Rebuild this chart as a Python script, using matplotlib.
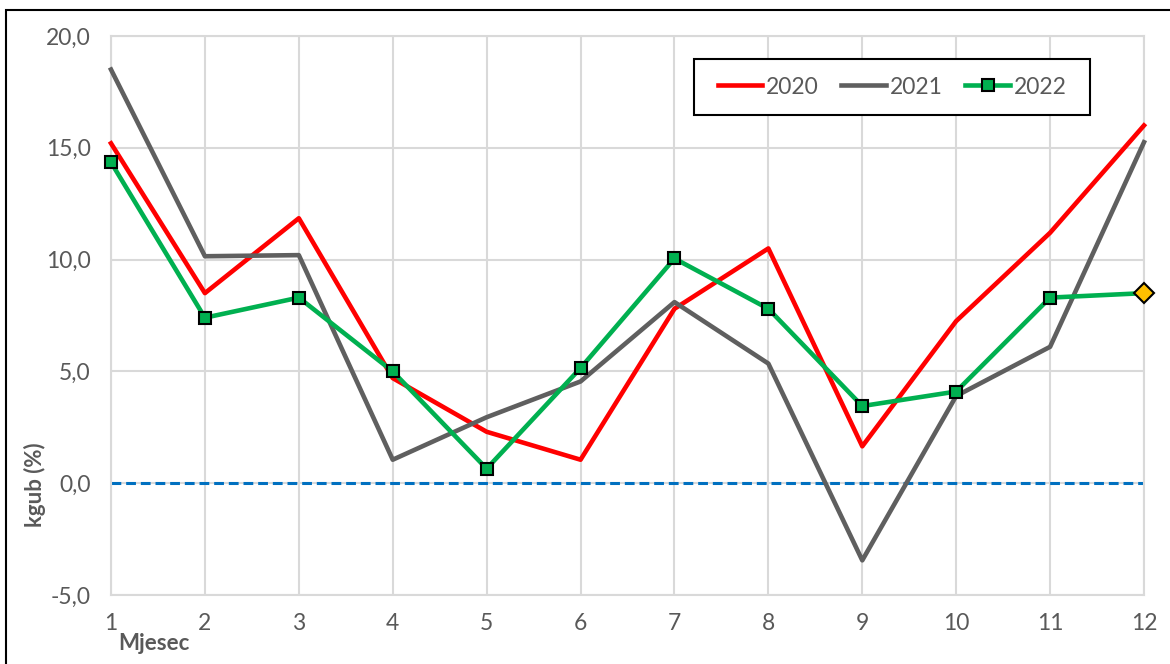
import matplotlib
matplotlib.use("Agg")
import matplotlib.pyplot as plt
from matplotlib.patches import Rectangle
from matplotlib.lines import Line2D

months = [1, 2, 3, 4, 5, 6, 7, 8, 9, 10, 11, 12]
kgub_2020 = [15.2, 8.5, 11.85, 4.7, 2.3, 1.05, 7.8, 10.5, 1.65, 7.25, 11.2, 16.0]
kgub_2021 = [18.5, 10.15, 10.2, 1.05, 2.95, 4.55, 8.1, 5.35, -3.45, 3.9, 6.1, 15.25]
kgub_2022 = [14.35, 7.4, 8.3, 5.0, 0.65, 5.15, 10.05, 7.8, 3.45, 4.1, 8.3, 8.5]
y_ticks = [-5.0, 0.0, 5.0, 10.0, 15.0, 20.0]

TXT = "#595959"
plt.rcParams["font.family"] = ["Lato", "DejaVu Sans"]

fig = plt.figure(figsize=(11.70, 6.64), dpi=100)
W, H = 1170, 664
ax = fig.add_axes([111 / W, 1 - 595 / H, (1144 - 111) / W, (595 - 36) / H])

ax.set_xlim(1, 12)
ax.set_ylim(-5, 20)
ax.set_xticks(months)
ax.set_yticks(y_ticks)
ax.set_yticklabels([f"{v:.1f}".replace(".", ",") for v in y_ticks])
ax.grid(True, color="#d9d9d9", linewidth=1.5)
ax.set_axisbelow(True)
for s in ax.spines.values():
    s.set_color("#d9d9d9")
    s.set_linewidth(1.5)
ax.tick_params(length=0, labelsize=16.5, labelcolor=TXT)
ax.tick_params(axis="x", pad=13)
ax.tick_params(axis="y", pad=14.5)

ax.axhline(0, color="#0070C0", linewidth=2.2, linestyle=(0, (3.2, 1.6)), zorder=2)

ax.plot(months, kgub_2020, color="#FF0000", linewidth=3.3, zorder=3, clip_on=False)
ax.plot(months, kgub_2021, color="#5f5f5f", linewidth=3.3, zorder=3, clip_on=False)
ax.plot(months, kgub_2022, color="#00B050", linewidth=3.3, zorder=4, clip_on=False)
ax.plot(months[:-1], kgub_2022[:-1], linestyle="none", marker="s", markersize=8.5,
        markerfacecolor="#00B050", markeredgecolor="black", markeredgewidth=1.5,
        zorder=5, clip_on=False)
ax.plot(months[-1:], kgub_2022[-1:], linestyle="none", marker="D", markersize=10,
        markerfacecolor="#FFC000", markeredgecolor="black", markeredgewidth=1.5,
        zorder=5, clip_on=False)

# legend box drawn separately so its padding can be wider than tall
fig.add_artist(Rectangle((694 / W, 1 - 115 / H), (1090 - 694) / W, 56 / H,
                         transform=fig.transFigure, facecolor="white",
                         edgecolor="black", linewidth=1.5, zorder=6))
handles = [
    Line2D([], [], color="#FF0000", linewidth=3.3),
    Line2D([], [], color="#5f5f5f", linewidth=3.3),
    Line2D([], [], color="#00B050", linewidth=3.3, marker="s", markersize=8.5,
           markerfacecolor="#00B050", markeredgecolor="black", markeredgewidth=1.5),
]
leg = fig.legend(handles, ["2020", "2021", "2022"], ncol=3,
                 loc="center", bbox_to_anchor=((694 + 1090) / 2 / W, 1 - 87 / H),
                 fontsize=16.5, frameon=False, handlelength=1.95,
                 handletextpad=0.15, columnspacing=1.0, borderpad=0.0)
leg.set_zorder(7)
for t in leg.get_texts():
    t.set_color(TXT)

fig.text(35 / W, 1 - 485 / H, "kgub (%)", rotation=90, ha="center", va="center",
         fontsize=16, fontweight="bold", color=TXT)
fig.text(118 / W, 1 - 643 / H, "Mjesec", ha="left", va="center",
         fontsize=16, fontweight="bold", color=TXT)

fig.add_artist(Rectangle((6 / W, -0.1), 1.2, 1 - 10 / H + 0.1, transform=fig.transFigure,
                         fill=False, edgecolor="black", linewidth=1.5))

fig.savefig("out.png", dpi=100)
